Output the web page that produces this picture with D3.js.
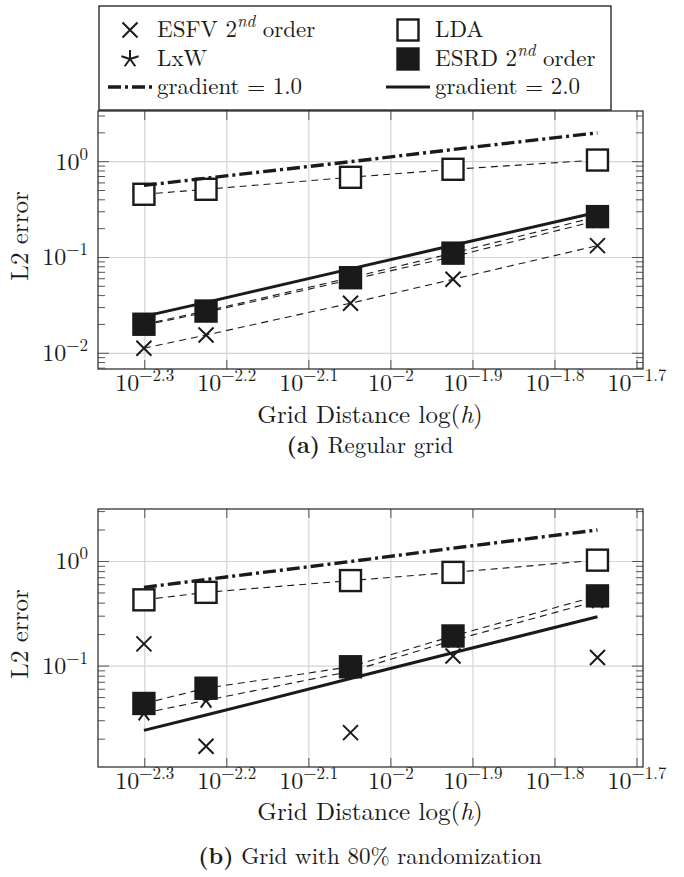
<!DOCTYPE html>
<html>
<head>
<meta charset="utf-8">
<script src="https://cdn.jsdelivr.net/npm/d3@7"></script>
<style>
  body { margin: 0; background: #fff; }
</style>
</head>
<body>
<svg id="chart" width="684" height="877"></svg>
<script>
// grid distances h (x values), common to both panels
var hValues = [1 / 200, 1 / 168, 1 / 112, 1 / 84, 1 / 56];
var xTickExps = [-2.3, -2.2, -2.1, -2, -1.9, -1.8, -1.7];
var xTickLabels = ["\u22122.3", "\u22122.2", "\u22122.1", "\u22122", "\u22121.9", "\u22121.8", "\u22121.7"];

// (a) Regular grid
var regEsfv = [0.0113, 0.0155, 0.0333, 0.0592, 0.133];
var regLxw  = [0.0196, 0.0268, 0.0585, 0.102, 0.243];
var regLda  = [0.457, 0.515, 0.687, 0.833, 1.04];
var regEsrd = [0.0201, 0.0276, 0.0615, 0.111, 0.267];

// (b) Grid with 80% randomization
var rndEsfv = [0.163, 0.0171, 0.0231, 0.125, 0.121];
var rndLxw  = [0.0355, 0.047, 0.089, 0.176, 0.42];
var rndLda  = [0.43, 0.507, 0.657, 0.787, 1.03];
var rndEsrd = [0.0439, 0.0614, 0.0985, 0.194, 0.469];

// reference slopes
var grad1 = [0.565, 0.672, 1.0, 1.34, 2.0];
var grad2 = [0.0243, 0.034, 0.076, 0.134, 0.296];

var FONT = '"Latin Modern Roman", "Liberation Serif", serif';
var tickFs = 24, supFs = 17, labelFs = 25, legendFs = 23, capFs = 23;
var ink = "#1a1a1a";
var left = 98, right = 643;

var svg = d3.select("#chart");

var x = d3.scaleLog()
  .domain([Math.pow(10, -2.357), Math.pow(10, -1.6927)])
  .range([left, right]);

function addText(g, px, py, size) {
  return g.append("text").attr("x", px).attr("y", py).attr("fill", ink)
    .style("font-family", FONT).style("font-size", size + "px");
}

function drawMark(g, type, cx, cy) {
  if (type == "cross") {
    var s = 7.5;
    g.append("path")
      .attr("d", "M" + (cx - s) + "," + (cy - s) + "L" + (cx + s) + "," + (cy + s) +
                 "M" + (cx - s) + "," + (cy + s) + "L" + (cx + s) + "," + (cy - s))
      .attr("stroke", ink).attr("stroke-width", 2).attr("fill", "none");
  } else if (type == "star") {
    var r = 9, d = "";
    for (var k = 0; k < 5; k++) {
      var a = (90 + 72 * k) * Math.PI / 180;
      d += "M" + cx + "," + cy + "L" + (cx + r * Math.cos(a)) + "," + (cy - r * Math.sin(a));
    }
    g.append("path").attr("d", d)
      .attr("stroke", ink).attr("stroke-width", 2).attr("fill", "none");
  } else if (type == "square" || type == "fsquare") {
    var h = 10.5;
    g.append("rect")
      .attr("x", cx - h).attr("y", cy - h)
      .attr("width", 2 * h).attr("height", 2 * h)
      .attr("fill", type == "fsquare" ? ink : "#fff")
      .attr("stroke", ink).attr("stroke-width", 2.4);
  }
}

// "10" with a raised exponent
function powLabel(t, exp) {
  t.append("tspan").text("10");
  t.append("tspan").attr("dy", -10).style("font-size", supFs + "px").text(exp);
}

function drawPanel(cfg) {
  var top = cfg.top, bottom = cfg.top + 258;
  var y = d3.scaleLog().domain(cfg.yDomain).range([bottom, top]);
  var g = svg.append("g");

  // grid
  g.append("g").selectAll("line").data(xTickExps).join("line")
    .attr("x1", d => x(Math.pow(10, d))).attr("x2", d => x(Math.pow(10, d)))
    .attr("y1", top).attr("y2", bottom)
    .attr("stroke", "#d4d4d4").attr("stroke-width", 1.2);
  g.append("g").selectAll("line").data(cfg.yMajor).join("line")
    .attr("x1", left).attr("x2", right)
    .attr("y1", d => y(d)).attr("y2", d => y(d))
    .attr("stroke", "#d4d4d4").attr("stroke-width", 1.2);

  // ticks (inward) on all four sides
  var minor = y.ticks().filter(d => cfg.yMajor.indexOf(d) < 0);
  var tk = g.append("g").attr("stroke", "#555").attr("stroke-width", 1);
  xTickExps.forEach(function(e) {
    var px = x(Math.pow(10, e));
    tk.append("line").attr("x1", px).attr("x2", px).attr("y1", bottom).attr("y2", bottom - 9);
    tk.append("line").attr("x1", px).attr("x2", px).attr("y1", top).attr("y2", top + 9);
  });
  cfg.yMajor.forEach(function(v) {
    tk.append("line").attr("x1", left).attr("x2", left + 11).attr("y1", y(v)).attr("y2", y(v));
    tk.append("line").attr("x1", right).attr("x2", right - 11).attr("y1", y(v)).attr("y2", y(v));
  });
  minor.forEach(function(v) {
    tk.append("line").attr("x1", left).attr("x2", left + 7).attr("y1", y(v)).attr("y2", y(v));
    tk.append("line").attr("x1", right).attr("x2", right - 7).attr("y1", y(v)).attr("y2", y(v));
  });

  // series
  var line = d3.line().x((d, i) => x(hValues[i])).y(d => y(d));
  var series = [
    {v: cfg.esfv, mark: "cross", line: cfg.esfvLine},
    {v: cfg.lxw, mark: "star", line: true},
    {v: cfg.lda, mark: "square", line: true},
    {v: cfg.esrd, mark: "fsquare", line: true}
  ];
  series.forEach(function(s) {
    if (s.line) {
      g.append("path").attr("d", line(s.v))
        .attr("fill", "none").attr("stroke", ink)
        .attr("stroke-width", 1.1).attr("stroke-dasharray", "7,5");
    }
    s.v.forEach(function(d, i) { drawMark(g, s.mark, x(hValues[i]), y(d)); });
  });
  g.append("path").attr("d", line(grad1))
    .attr("fill", "none").attr("stroke", ink).attr("stroke-width", 3.4)
    .attr("stroke-dasharray", "13,4,3,4");
  g.append("path").attr("d", line(grad2))
    .attr("fill", "none").attr("stroke", ink).attr("stroke-width", 3);

  // frame
  g.append("rect").attr("x", left).attr("y", top)
    .attr("width", right - left).attr("height", bottom - top)
    .attr("fill", "none").attr("stroke", "#333").attr("stroke-width", 1.3);

  // tick labels
  xTickExps.forEach(function(e, i) {
    var t = addText(g, x(Math.pow(10, e)), bottom + 22, tickFs).attr("text-anchor", "middle");
    powLabel(t, xTickLabels[i]);
  });
  cfg.yMajor.forEach(function(v, i) {
    var t = addText(g, 88, y(v) + 8, tickFs).attr("text-anchor", "end");
    powLabel(t, cfg.yLabels[i]);
  });

  // axis titles and caption
  addText(g, 0, 0, labelFs)
    .attr("transform", "translate(28," + (top + 125) + ") rotate(-90)")
    .attr("text-anchor", "middle").text("L2 error");
  var xt = addText(g, 370, bottom + cfg.labelGap, labelFs).attr("text-anchor", "middle");
  xt.append("tspan").text("Grid Distance log(");
  xt.append("tspan").style("font-style", "italic").text("h");
  xt.append("tspan").text(")");
  var cap = addText(g, 370, bottom + cfg.capGap, capFs).attr("text-anchor", "middle");
  cap.append("tspan").style("font-weight", "bold").text(cfg.tag);
  cap.append("tspan").text(" " + cfg.caption);
}

drawPanel({
  top: 111, yDomain: [Math.pow(10, -2.164), Math.pow(10, 0.529)],
  yMajor: [0.01, 0.1, 1], yLabels: ["\u22122", "\u22121", "0"],
  esfv: regEsfv, lxw: regLxw, lda: regLda, esrd: regEsrd, esfvLine: true,
  tag: "(a)", caption: "Regular grid", labelGap: 54, capGap: 84
});
drawPanel({
  top: 509, yDomain: [Math.pow(10, -1.965), Math.pow(10, 0.502)],
  yMajor: [0.1, 1], yLabels: ["\u22121", "0"],
  esfv: rndEsfv, lxw: rndLxw, lda: rndLda, esrd: rndEsrd, esfvLine: false,
  tag: "(b)", caption: "Grid with 80% randomization", labelGap: 53, capGap: 97
});

// legend
var lg = svg.append("g");
lg.append("rect").attr("x", 99).attr("y", 6).attr("width", 512).attr("height", 104)
  .attr("fill", "#fff").attr("stroke", ink).attr("stroke-width", 1.3);
var legendItems = [
  {mark: "cross", label: "ESFV 2", sup: "nd", tail: " order", col: 0, row: 0},
  {mark: "square", label: "LDA", col: 1, row: 0},
  {mark: "star", label: "LxW", col: 0, row: 1},
  {mark: "fsquare", label: "ESRD 2", sup: "nd", tail: " order", col: 1, row: 1},
  {mark: "dashdot", label: "gradient = 1.0", col: 0, row: 2},
  {mark: "solid", label: "gradient = 2.0", col: 1, row: 2}
];
var colMark = [130, 408], colText = [157, 435], rowY = [30, 59, 87];
legendItems.forEach(function(it) {
  var cx = colMark[it.col], cy = rowY[it.row];
  if (it.mark == "dashdot" || it.mark == "solid") {
    lg.append("line").attr("x1", cx - 22).attr("x2", cx + 22).attr("y1", cy).attr("y2", cy)
      .attr("stroke", ink).attr("stroke-width", it.mark == "solid" ? 3 : 3.4)
      .attr("stroke-dasharray", it.mark == "solid" ? null : "13,4,3,4");
  } else {
    drawMark(lg, it.mark, cx, cy);
  }
  var t = addText(lg, colText[it.col], cy + 7, legendFs);
  t.append("tspan").text(it.label);
  if (it.sup) {
    t.append("tspan").attr("dy", -10).style("font-size", supFs + "px")
      .style("font-style", "italic").text(it.sup);
    t.append("tspan").attr("dy", 10).text(it.tail);
  }
});
</script>
</body>
</html>
